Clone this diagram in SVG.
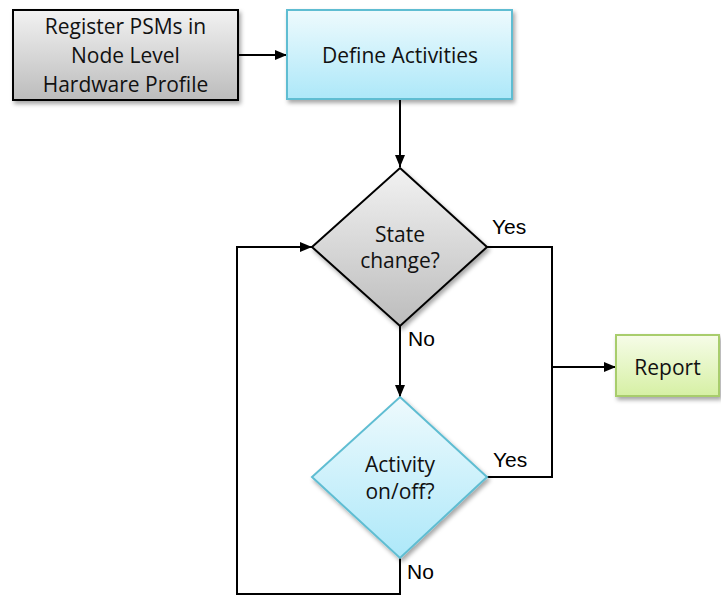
<svg xmlns="http://www.w3.org/2000/svg" width="721" height="597" viewBox="0 0 721 597">
  <style>
    .lbl { font-family: "Open Sans", Lato, sans-serif; font-size: 21px; fill: #111; text-anchor: middle; }
    .yn { font-family: "Liberation Sans", Arial, sans-serif; font-size: 21px; fill: #000; }
    .wire { fill: none; stroke: #000; stroke-width: 2; }
  </style>
  <defs>
    <linearGradient id="gGray" x1="0" y1="0" x2="0" y2="1">
      <stop offset="0" stop-color="#f2f2f2"/>
      <stop offset="1" stop-color="#bcbcbc"/>
    </linearGradient>
    <linearGradient id="gCyan" x1="0" y1="0" x2="0" y2="1">
      <stop offset="0" stop-color="#eefafd"/>
      <stop offset="1" stop-color="#ade8f9"/>
    </linearGradient>
    <linearGradient id="gGreen" x1="0" y1="0" x2="0" y2="1">
      <stop offset="0" stop-color="#f6fce8"/>
      <stop offset="1" stop-color="#d6f0a4"/>
    </linearGradient>
    <filter id="shadow" x="-10%" y="-10%" width="125%" height="130%">
      <feDropShadow dx="2" dy="3" stdDeviation="2" flood-color="#000" flood-opacity="0.35"/>
    </filter>
    <marker id="arrow" viewBox="0 0 12 10" refX="12" refY="5" markerWidth="12" markerHeight="10" markerUnits="userSpaceOnUse" orient="auto">
      <path d="M0,0 L12,5 L0,10 Z" fill="#000"/>
    </marker>
  </defs>

  <!-- connectors -->
  <g id="connectors">
    <line class="wire" x1="238" y1="55" x2="287" y2="55" marker-end="url(#arrow)"/>
    <line class="wire" x1="400" y1="100" x2="400" y2="167" marker-end="url(#arrow)"/>
    <line class="wire" x1="400" y1="326" x2="400" y2="397" marker-end="url(#arrow)"/>
    <polyline class="wire" points="487,247 552,247 552,477 487,477"/>
    <line class="wire" x1="552" y1="367" x2="616" y2="367" marker-end="url(#arrow)"/>
    <polyline class="wire" points="400,558 400,594 237,594 237,247 312,247" marker-end="url(#arrow)"/>
    <text class="yn" x="492" y="234">Yes</text>
    <text class="yn" x="408" y="346">No</text>
    <text class="yn" x="493" y="467">Yes</text>
    <text class="yn" x="407" y="579">No</text>
  </g>

  <!-- nodes -->
  <g id="register">
    <rect x="13" y="10" width="225" height="90" fill="url(#gGray)" stroke="#000" stroke-width="2" filter="url(#shadow)"/>
    <text class="lbl" x="125.5" y="34">Register PSMs in</text>
    <text class="lbl" x="125.5" y="63">Node Level</text>
    <text class="lbl" x="125.5" y="92">Hardware Profile</text>
  </g>

  <g id="define">
    <rect x="287" y="10" width="225" height="89" fill="url(#gCyan)" stroke="#5fbdd2" stroke-width="2" filter="url(#shadow)"/>
    <text class="lbl" x="400" y="63">Define Activities</text>
  </g>

  <g id="state">
    <polygon points="400,168 487,247 400,326 312,247" fill="url(#gGray)" stroke="#000" stroke-width="2" filter="url(#shadow)"/>
    <text class="lbl" x="400" y="242">State</text>
    <text class="lbl" x="400" y="268">change?</text>
  </g>

  <g id="activity">
    <polygon points="400,397 487,477 400,558 312,477" fill="url(#gCyan)" stroke="#5fbdd2" stroke-width="2" filter="url(#shadow)"/>
    <text class="lbl" x="400" y="472">Activity</text>
    <text class="lbl" x="400" y="499">on/off?</text>
  </g>

  <g id="report">
    <rect x="616" y="335" width="103" height="61" fill="url(#gGreen)" stroke="#a8cd6c" stroke-width="2" filter="url(#shadow)"/>
    <text class="lbl" x="667.5" y="375">Report</text>
  </g>
</svg>
